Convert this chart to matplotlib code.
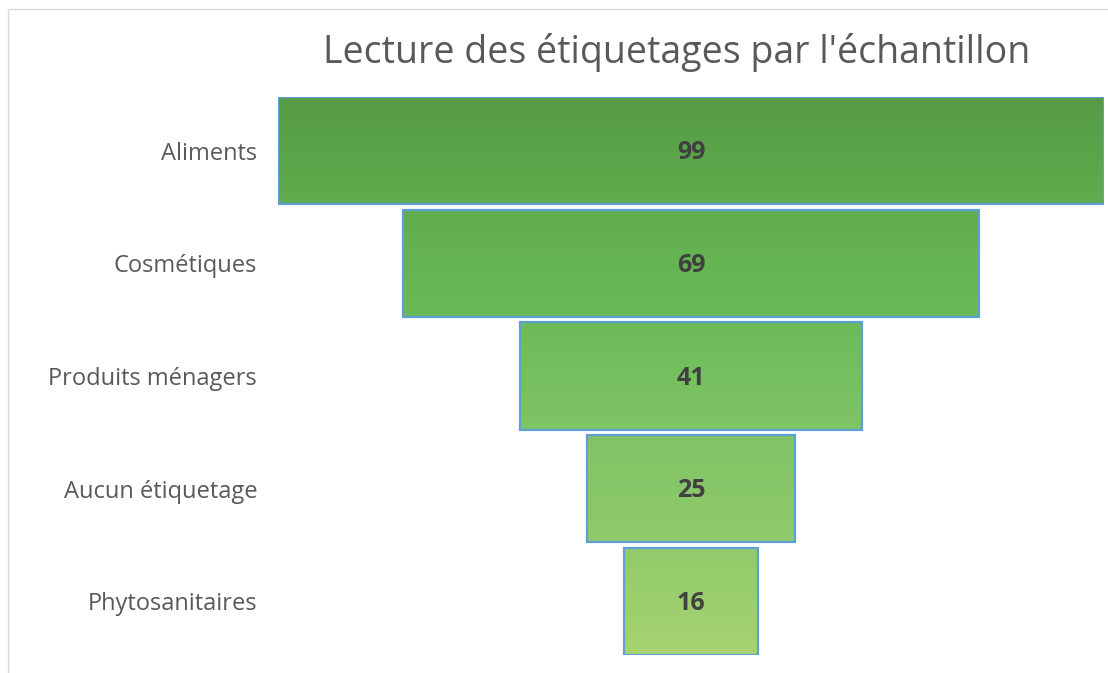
import matplotlib.pyplot as plt
import numpy as np
from matplotlib.colors import LinearSegmentedColormap
from matplotlib.patches import Rectangle

categories = ["Aliments", "Cosmétiques", "Produits ménagers", "Aucun étiquetage", "Phytosanitaires"]
values = [99, 69, 41, 25, 16]
title = "Lecture des étiquetages par l'échantillon"

plt.rcParams["font.family"] = ["Open Sans", "DejaVu Sans"]

W, H = 1108, 673
fig = plt.figure(figsize=(W / 100, H / 100), dpi=100, facecolor="white")
# funnel area: x 278..1104 px, y 97..655 px
ax = fig.add_axes([278 / W, 1 - 655 / H, 826 / W, 558 / H])

vals = np.array(values, dtype=float)
ypos = np.arange(len(categories))
bar_h = 0.95
span = vals.max()

bars = ax.barh(ypos, vals, left=-vals / 2, height=bar_h, color="none",
               edgecolor="#5f9fd8", linewidth=1.6, zorder=3)

# gradient running top to bottom across the whole funnel
cmap = LinearSegmentedColormap.from_list(
    "funnel", ["#559b45", "#60ad4e", "#6bbb58", "#80c466", "#90ca6b", "#a6d370"])
y0, y1 = -bar_h / 2, len(categories) - 1 + bar_h / 2
for b in bars:
    top, bot = b.get_y(), b.get_y() + b.get_height()
    g = np.linspace((top - y0) / (y1 - y0), (bot - y0) / (y1 - y0), 100).reshape(-1, 1)
    ax.imshow(g, cmap=cmap, vmin=0, vmax=1, aspect="auto", origin="upper",
              extent=[b.get_x(), b.get_x() + b.get_width(), bot, top], zorder=2,
              interpolation="bilinear")

for y, v in zip(ypos, values):
    ax.text(0, y + 0.02, str(v), ha="center", va="center", fontsize=18, fontweight="bold",
            color="#404040", zorder=4)

ax.set_xlim(-span / 2, span / 2)
ax.set_ylim(y1, y0)
ax.set_yticks(ypos)
ax.set_yticklabels(categories, fontsize=17, color="#595959")
ax.tick_params(axis="y", length=0, pad=15)
ax.set_xticks([])
for s in ax.spines.values():
    s.set_visible(False)

fig.text(677 / W, 1 - 52 / H, title, ha="center", va="center", fontsize=27, color="#595959")

# light chart border (top and left edges visible)
fig.patches.append(Rectangle((8 / W, -0.1), 1.2, 1 - 9 / H + 0.1, transform=fig.transFigure,
                             fill=False, edgecolor="#d9d9d9", linewidth=1))

fig.savefig("out.png", dpi=100, facecolor="white")
